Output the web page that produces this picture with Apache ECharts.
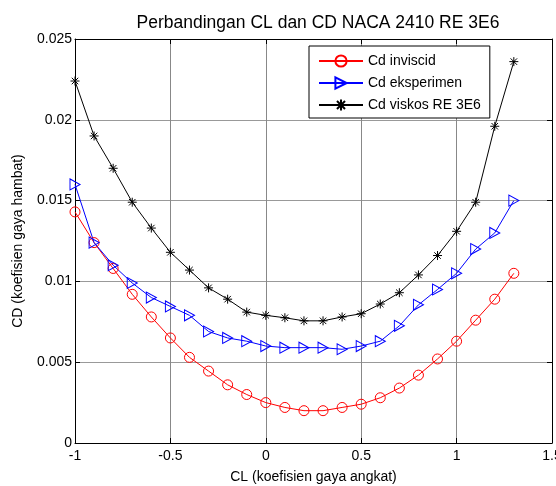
<!DOCTYPE html>
<html><head><meta charset="utf-8">
<script src="https://cdn.jsdelivr.net/npm/echarts@6/dist/echarts.min.js"></script>
<style>html,body{margin:0;padding:0;background:#fff;overflow:hidden}#c{width:556px;height:486px}</style>
</head><body><div id="c"></div>
<script>
var cl = [-1, -0.9, -0.8, -0.7, -0.6, -0.5, -0.4, -0.3, -0.2, -0.1, 0, 0.1, 0.2, 0.3, 0.4, 0.5, 0.6, 0.7, 0.8, 0.9, 1.0, 1.1, 1.2, 1.3];
var cdInviscid = [0.0143, 0.0124, 0.0108, 0.0092, 0.0078, 0.0065, 0.0053, 0.00445, 0.0036, 0.0030, 0.0025, 0.0022, 0.0020, 0.0020, 0.0022, 0.0024, 0.0028, 0.0034, 0.0042, 0.0052, 0.0063, 0.0076, 0.0089, 0.0105];
var cdEksperimen = [0.0160, 0.0124, 0.0110, 0.0099, 0.0090, 0.00845, 0.0079, 0.0069, 0.0065, 0.0063, 0.0060, 0.0059, 0.0059, 0.0059, 0.0058, 0.0060, 0.0063, 0.00725, 0.00855, 0.0095, 0.0105, 0.0120, 0.0130, 0.0150];
var cdViskos = [0.0224, 0.0190, 0.0170, 0.0149, 0.0133, 0.0118, 0.0107, 0.0096, 0.0089, 0.0081, 0.0079, 0.00775, 0.00756, 0.00756, 0.0078, 0.0080, 0.0086, 0.0093, 0.0104, 0.0116, 0.0131, 0.0149, 0.0196, 0.0236];
var seriesNames = ['Cd inviscid', 'Cd eksperimen', 'Cd viskos RE 3E6'];
var xTicks = {min: -1, max: 1.5, interval: 0.5};
var yTicks = {min: 0, max: 0.025, interval: 0.005};

function pairs(ys){ return cl.map(function(x,i){ return [x, ys[i]]; }); }

var FONT = 'Liberation Sans, Arial, Helvetica, sans-serif';
var chart = echarts.init(document.getElementById('c'), null, {renderer:'canvas'});
var axisCommon = {
  axisLine: {show: true, onZero: false, lineStyle: {color: '#000', width: 1}},
  axisTick: {show: true, inside: true, length: 5, lineStyle: {color: '#000'}},
};
var star = 'path://M0,-5L0,5M-5,0L5,0M-3.6,-3.6L3.6,3.6M-3.6,3.6L3.6,-3.6';
chart.setOption({
  animation: false,
  backgroundColor: '#fff',
  textStyle: {fontFamily: FONT},
  title: {
    text: 'Perbandingan CL dan CD NACA 2410 RE 3E6',
    left: 313, top: 9, textAlign: 'center',
    textStyle: {fontSize: 17.5, fontWeight: 'normal', color: '#000', fontFamily: FONT}
  },
  grid: {left: 75, right: 4, top: 39, bottom: 43, containLabel: false, outerBoundsMode: 'none'},
  legend: {
    left: 309, top: 46, orient: 'vertical',
    backgroundColor: '#fff', borderColor: '#000', borderWidth: 1,
    padding: [8, 9, 6, 9], itemGap: 8, itemWidth: 44, itemHeight: 14,
    textStyle: {fontSize: 14, color: '#000', fontFamily: FONT},
    data: seriesNames
  },
  xAxis: [
    Object.assign({type: 'value', min: xTicks.min, max: xTicks.max, interval: xTicks.interval,
      name: 'CL (koefisien gaya angkat)', nameLocation: 'middle', nameGap: 27,
      nameTextStyle: {fontSize: 14, color: '#000', fontFamily: FONT},
      axisLabel: {color: '#000', fontSize: 14, margin: 6, fontFamily: FONT},
      splitLine: {show: true, lineStyle: {color: '#888', width: 1}}
    }, axisCommon),
    Object.assign({type: 'value', position: 'top', min: xTicks.min, max: xTicks.max, interval: xTicks.interval,
      axisLabel: {show: false}, splitLine: {show: false}}, axisCommon)
  ],
  yAxis: [
    Object.assign({type: 'value', min: yTicks.min, max: yTicks.max, interval: yTicks.interval,
      name: 'CD (koefisien gaya hambat)', nameLocation: 'middle', nameGap: 50,
      nameTextStyle: {fontSize: 14, color: '#000', fontFamily: FONT},
      axisLabel: {color: '#000', fontSize: 14, margin: 3, fontFamily: FONT},
      splitLine: {show: true, lineStyle: {color: '#999', width: 1}}
    }, axisCommon),
    Object.assign({type: 'value', position: 'right', min: yTicks.min, max: yTicks.max, interval: yTicks.interval,
      axisLabel: {show: false}, splitLine: {show: false}}, axisCommon)
  ],
  series: [
    {name: seriesNames[0], type: 'line', data: pairs(cdInviscid), symbol: 'circle', symbolSize: 10,
      lineStyle: {color: '#ff0000', width: 1}, itemStyle: {color: 'rgba(0,0,0,0)', borderColor: '#ff0000', borderWidth: 1}, z: 3},
    {name: seriesNames[1], type: 'line', data: pairs(cdEksperimen), symbol: 'triangle', symbolRotate: -90, symbolSize: [11, 10],
      lineStyle: {color: '#0000ff', width: 1}, itemStyle: {color: 'rgba(0,0,0,0)', borderColor: '#0000ff', borderWidth: 1}, z: 3},
    {name: seriesNames[2], type: 'line', data: pairs(cdViskos), symbol: star, symbolSize: 9,
      lineStyle: {color: '#000', width: 1}, itemStyle: {color: 'rgba(0,0,0,0)', borderColor: '#000', borderWidth: 1}, z: 3}
  ]
});
</script></body></html>
